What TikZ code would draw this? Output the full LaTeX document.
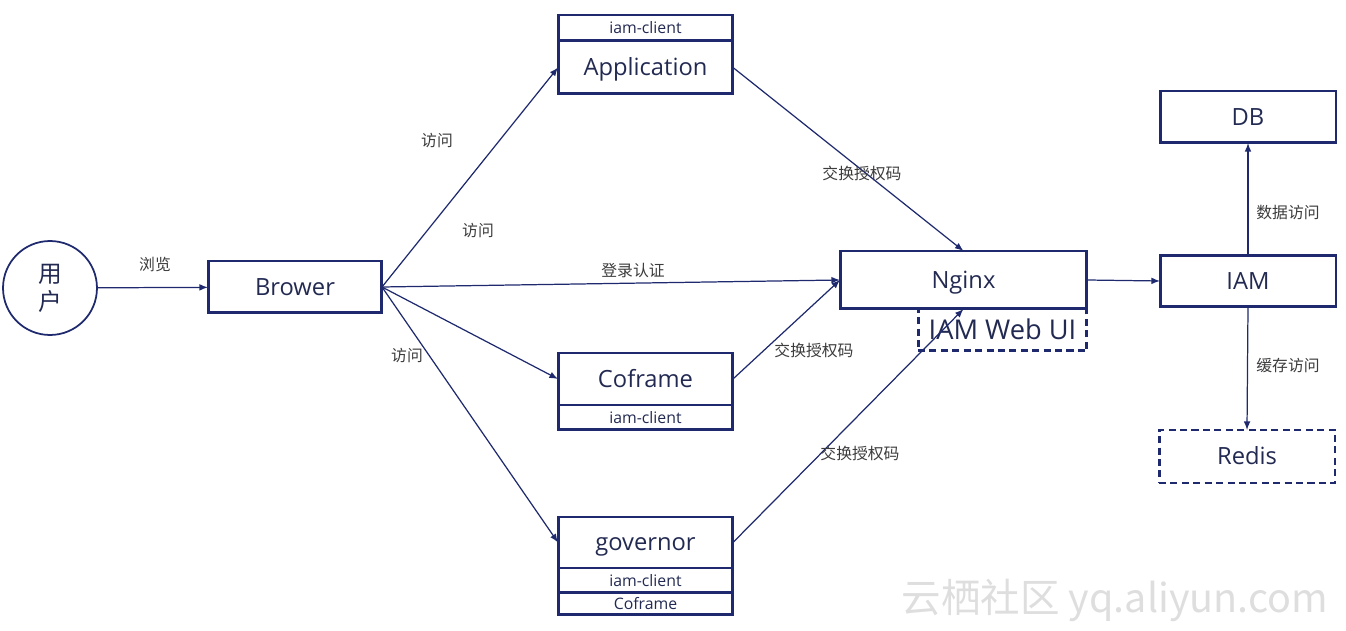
\documentclass[tikz,border=0pt]{standalone}
\usepackage{fontspec}
\setmainfont{Open Sans}
\newfontfamily\cjk{Noto Sans CJK SC}
\usetikzlibrary{shapes.geometric, arrows, positioning}

\definecolor{navy}{HTML}{1F2A6E}
\definecolor{inktext}{HTML}{232A52}
\definecolor{labelgray}{HTML}{3C3C3C}

\tikzset{
  box/.style={draw=navy, line width=1.7pt, outer sep=0pt, inner sep=0pt,
    minimum width=3.5cm, text=inktext, font=\fontsize{13.5}{16}\selectfont,
    text height=9.6pt, text depth=0pt},
  dashbox/.style={box, dash pattern=on 4pt off 2.5pt},
  small/.style={font=\fontsize{9}{11}\selectfont, text height=6.4pt},
  link/.style={draw=navy, line width=0.7pt, -latex},
  lbl/.style={text=labelgray, font=\cjk\fontsize{9}{10}\selectfont, inner sep=1pt}
}

\begin{document}
\begin{tikzpicture}[x=0.02cm, y=-0.02cm]
    \useasboundingbox (0,0) rectangle (1346,631);

    % Gebruiker en browser
    \node[circle, draw=navy, line width=1pt, minimum size=1.88cm, text=inktext,
          font=\cjk\fontsize{13.5}{16}\selectfont, align=center] (user) at (50,288) {用\\户};
    \node[box, minimum width=3.48cm, minimum height=1.04cm] (brower) at (295,287) {Brower};

    % Applicaties (gestapelde blokken)
    \node[box, small, minimum height=0.52cm] (appclient) at (645.5,28) {iam-client};
    \node[box, minimum height=1.06cm, below=0pt of appclient] (app) {Application};

    \node[box, minimum height=1.04cm] (cofr) at (645.5,379) {Coframe};
    \node[box, small, minimum height=0.5cm, below=0pt of cofr] (cofrclient) {iam-client};

    \node[box, minimum height=1.02cm] (gov) at (645.5,542.5) {governor};
    \node[box, small, minimum height=0.5cm, below=0pt of gov] (govclient) {iam-client};
    \node[box, small, minimum height=0.44cm, below=0pt of govclient] (govcofr) {Coframe};

    % Nginx met web UI
    \node[box, minimum width=4.94cm, minimum height=1.16cm] (nginx) at (963.5,280) {Nginx};
    \node[dashbox, minimum width=3.38cm, minimum height=0.84cm, anchor=north east,
          font=\fontsize{15.5}{18}\selectfont, text height=11.1pt] (webui) at (nginx.south east) {IAM Web UI};

    % IAM en opslag
    \node[box, minimum width=3.52cm, minimum height=1.02cm] (iam) at (1248,281) {IAM};
    \node[box, minimum width=3.52cm, minimum height=1.04cm] (db) at (1248,117) {DB};
    \node[dashbox, minimum width=3.52cm, minimum height=1.06cm] (redis) at (1247,456.5) {Redis};

    % Verbindingen
    \draw[link] (user) -- (brower);
    \draw[link] (brower.east) -- (app.west);
    \draw[link] (brower.east) -- (nginx.west);
    \draw[link] (brower.east) -- (cofr.west);
    \draw[link] (brower.east) -- (gov.west);
    \draw[link] (app.east) -- (nginx.north);
    \draw[link] (cofr.east) -- (nginx.west);
    \draw[link] (gov.east) -- (nginx.south);
    \draw[link] (nginx.east) -- (iam.west);
    \draw[link] (iam.north) -- (db.south);
    \draw[link] (iam.south) -- (redis.north);

    % Labels
    \node[lbl] (lbrowse) at (155,265) {浏览};
    \node[lbl] (lvisit1) at (437,141) {访问};
    \node[lbl] (lvisit2) at (478,231) {访问};
    \node[lbl] (llogin) at (633,271) {登录认证};
    \node[lbl] (lvisit3) at (407,356) {访问};
    \node[lbl] (lcode1) at (862,173) {交换授权码};
    \node[lbl] (lcode2) at (814,350) {交换授权码};
    \node[lbl] (lcode3) at (860,453) {交换授权码};
    \node[lbl] (ldata) at (1288,213) {数据访问};
    \node[lbl] (lcache) at (1288,366) {缓存访问};

    % Watermerk
    \node[text=black!13, font=\cjk\fontsize{22.5}{26}\selectfont] (mark) at (1115,600) {云栖社区 yq.aliyun.com};
\end{tikzpicture}
\end{document}
